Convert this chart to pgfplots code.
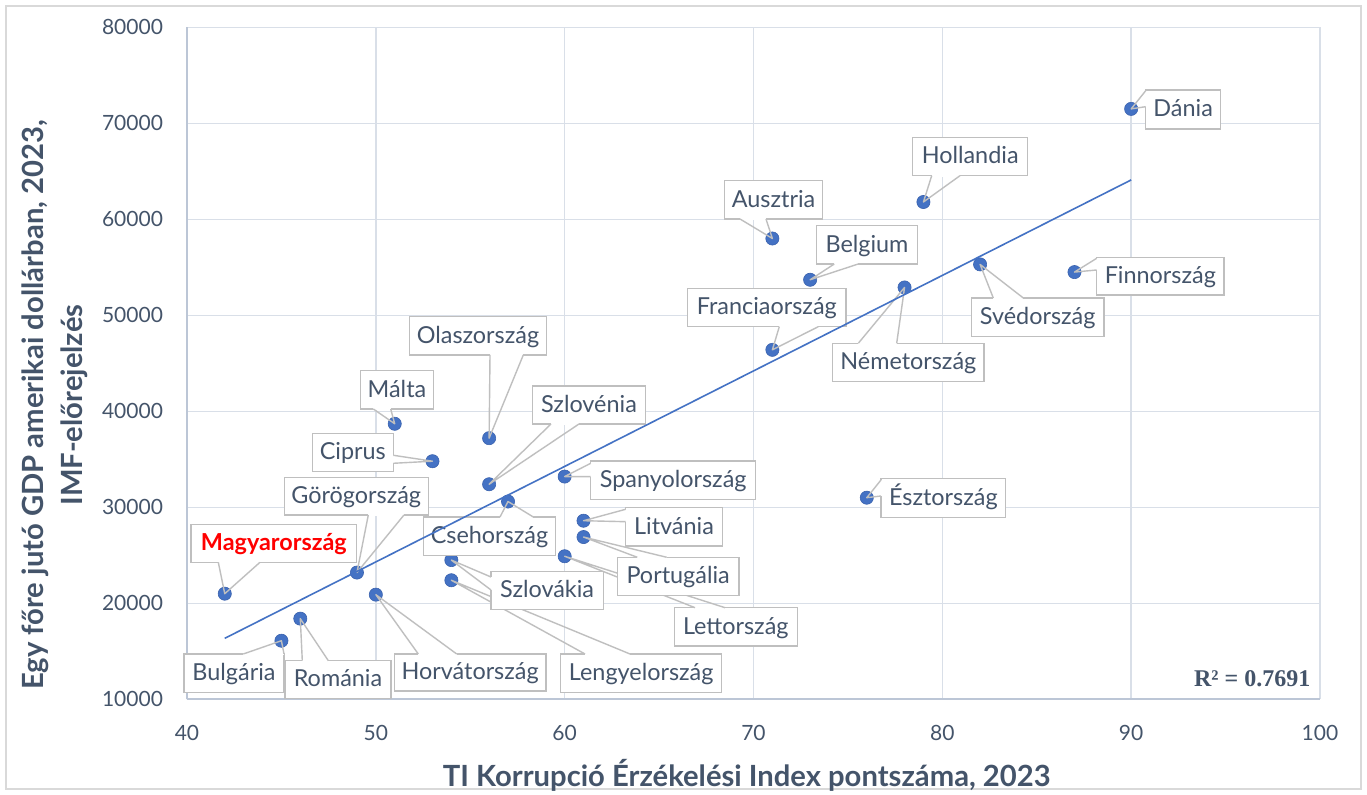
\documentclass[border=0pt]{standalone}
\usepackage{pgfplots}
\pgfplotsset{compat=1.18}
\usetikzlibrary{calc}
\usepackage{fontspec}
\setmainfont{Lato}
\newfontfamily\serifR{Liberation Serif}
\definecolor{txt}{HTML}{44546A}
\definecolor{gridc}{HTML}{D9DFE8}
\definecolor{axc}{HTML}{BCC6D6}
\definecolor{ptc}{HTML}{4472C4}
\definecolor{ptd}{HTML}{3A62AE}
\definecolor{boxc}{HTML}{BFBFBF}
\definecolor{framec}{HTML}{D9D9D9}
\newcommand\lbl{\fontsize{11.7}{13}\selectfont}
\newcommand\tck{\fontsize{10.5}{12}\selectfont}
% #1 corner1, #2 corner2, #3 text, #4 base1, #5 base2, #6 tip, #7 extra style
\newcommand{\callout}[7]{%
  \draw[boxc, line width=0.7pt, fill=white] #1 rectangle #2;
  \draw[white, line width=1.3pt] #4 -- #5;
  \draw[boxc, line width=0.7pt, line join=round] #4 -- (#6) -- #5;
  \node[text=txt, font=\lbl, text height=0.72em, text depth=0pt, inner sep=0pt, #7] at ($#1!0.5!#2$) {#3};
}
\begin{document}
\begin{tikzpicture}
\begin{scope}[x=0.5pt, y=-0.5pt, shift={(-93.5pt,349.65pt)}]
  \fill[white] (0,0) rectangle (1367,795);
  \draw[framec, line width=0.75pt] (6,6) rectangle (1361,789);
\end{scope}
\begin{axis}[
  at={(0,0)}, anchor=south west, scale only axis,
  width=566.5pt, height=336pt,
  xmin=40, xmax=100, ymin=10000, ymax=80000,
  xtick={40,50,...,100}, ytick={10000,20000,...,80000},
  grid=major, major grid style={gridc, line width=0.7pt},
  axis x line*=bottom, axis y line*=left,
  axis line style={axc, line width=0.9pt, -},
  major tick length=0pt,
  scaled y ticks=false, scaled x ticks=false,
  tick label style={font=\tck, text=txt},
  /pgf/number format/assume math mode=true,
  /pgf/number format/fixed,
  /pgf/number format/set thousands separator={},
  xticklabel style={yshift=-9.5pt},
  yticklabel style={xshift=-8.5pt},
  xlabel={TI Korrupció Érzékelési Index pontszáma, 2023},
  ylabel={Egy főre jutó GDP amerikai dollárban, 2023,\\IMF-előrejelzés},
  x label style={at={(axis description cs:0.494,-0.1127)}, anchor=center, font=\bfseries\fontsize{14.6}{16}\selectfont, text=txt},
  y label style={at={(axis description cs:-0.117,0.438)}, anchor=center, align=center, font=\bfseries\fontsize{14.6}{19.5}\selectfont, text=txt},
  clip=false,
]
\addplot[only marks, mark=*, mark size=3.3pt, mark options={fill=ptc, draw=ptd, line width=0.3pt}] coordinates {
  (42,21000) (45,16100) (46,18400) (49,23200) (50,20900) (51,38700) (53,34800)
  (56,37200) (56,32400) (57,30600) (54,24500) (54,22400) (60,33200) (60,24900)
  (61,28600) (61,26900) (71,58000) (71,46400) (73,53700) (78,52900) (79,61800)
  (82,55300) (87,54500) (90,71500) (76,31000)
};
\coordinate (hu) at (axis cs:42,21000);
\coordinate (bg) at (axis cs:45,16100);
\coordinate (ro) at (axis cs:46,18400);
\coordinate (gr) at (axis cs:49,23200);
\coordinate (hr) at (axis cs:50,20900);
\coordinate (mt) at (axis cs:51,38700);
\coordinate (cy) at (axis cs:53,34800);
\coordinate (it) at (axis cs:56,37200);
\coordinate (si) at (axis cs:56,32400);
\coordinate (cz) at (axis cs:57,30600);
\coordinate (sk) at (axis cs:54,24500);
\coordinate (pl) at (axis cs:54,22400);
\coordinate (es) at (axis cs:60,33200);
\coordinate (lv) at (axis cs:60,24900);
\coordinate (lt) at (axis cs:61,28600);
\coordinate (pt) at (axis cs:61,26900);
\coordinate (at) at (axis cs:71,58000);
\coordinate (fr) at (axis cs:71,46400);
\coordinate (be) at (axis cs:73,53700);
\coordinate (de) at (axis cs:78,52900);
\coordinate (nl) at (axis cs:79,61800);
\coordinate (se) at (axis cs:82,55300);
\coordinate (fi) at (axis cs:87,54500);
\coordinate (dk) at (axis cs:90,71500);
\coordinate (ee) at (axis cs:76,31000);
\end{axis}
\begin{scope}[x=0.5pt, y=-0.5pt, shift={(-93.5pt,349.65pt)}]
  \callout{(191,524.3)}{(356.7,562.3)}{Magyarország}{(218.3,562.3)}{(260,562.3)}{hu}{font=\lbl\bfseries, text=red}
  \callout{(184,654)}{(284,692.3)}{Bulgária}{(243.3,654)}{(284,654)}{bg}{}
  \callout{(285,660.7)}{(391,698.3)}{Románia}{(302.3,660.7)}{(328.3,660.7)}{ro}{}
  \callout{(284.3,477.3)}{(428.3,515)}{Görögország}{(368.3,515)}{(404,515)}{gr}{}
  \callout{(394.3,654)}{(546,691)}{Horvátország}{(418.3,654)}{(456.7,654)}{hr}{}
  \callout{(360.7,370.7)}{(433.3,409)}{Málta}{(373.3,409)}{(390.7,409)}{mt}{}
  \callout{(312.3,433.3)}{(393.3,471.7)}{Ciprus}{(393.3,455.3)}{(393.3,463.3)}{cy}{}
  \callout{(409.3,316.7)}{(546.7,355)}{Olaszország}{(490,355)}{(523.3,355)}{it}{}
  \callout{(532.3,386)}{(645.7,424)}{Szlovénia}{(551,424)}{(579,424)}{si}{}
  \callout{(423.5,517)}{(555.5,555.5)}{Csehország}{(500,517)}{(533.3,517)}{cz}{}
  \callout{(560.7,654)}{(721.7,692.3)}{Lengyelország}{(585,654)}{(630,654)}{pl}{}
  \callout{(491,571.7)}{(603.3,609.3)}{Szlovákia}{(491,577)}{(491,590)}{sk}{}
  \callout{(590.7,461)}{(755.7,499.3)}{Spanyolország}{(590.7,463.3)}{(590.7,476.7)}{es}{}
  \callout{(625.7,507.7)}{(722.3,546)}{Litvánia}{(625.7,509.3)}{(625.7,521.7)}{lt}{}
  \callout{(674.3,607.7)}{(797.3,646)}{Lettország}{(695,607.7)}{(725,607.7)}{lv}{}
  \callout{(617.3,557.3)}{(739,595.7)}{Portugália}{(637.3,557.3)}{(666.7,557.3)}{pt}{}
  \callout{(724.3,180.7)}{(822.7,219)}{Ausztria}{(740,219)}{(766,219)}{at}{}
  \callout{(912.7,137.3)}{(1027.7,175.7)}{Hollandia}{(931.7,175.7)}{(960,175.7)}{nl}{}
  \callout{(816.7,225.7)}{(917.3,264)}{Belgium}{(834.3,264)}{(858.3,264)}{be}{}
  \callout{(687.7,288.3)}{(846,326.7)}{Franciaország}{(779.3,326.7)}{(818.3,326.7)}{fr}{}
  \callout{(832.7,343.3)}{(984,381.7)}{Németország}{(858.3,343.3)}{(896.7,343.3)}{de}{}
  \callout{(971.5,298)}{(1104,336.3)}{Svédország}{(993.3,298)}{(1023.3,298)}{se}{}
  \callout{(1096.7,257.3)}{(1224,295)}{Finnország}{(1096.7,258.3)}{(1096.7,270)}{fi}{}
  \callout{(1145.7,90)}{(1220.7,129)}{Dánia}{(1145.7,90.7)}{(1145.7,106.7)}{dk}{}
  \callout{(881,478.7)}{(1005.7,517.7)}{Észtország}{(881,480)}{(881,496)}{ee}{}
  \node[anchor=east, inner sep=0pt, text=txt, font=\serifR\bfseries\fontsize{12}{14}\selectfont] at (1310.7,678.3) {R² = 0.7691};
\end{scope}
\begin{axis}[
  at={(0,0)}, anchor=south west, scale only axis,
  width=566.5pt, height=336pt,
  xmin=40, xmax=100, ymin=10000, ymax=80000,
  hide axis,
]
\addplot[ptc, line width=0.8pt] coordinates {(42,16350) (90,64100)};
\end{axis}
\begin{scope}[x=0.5pt, y=-0.5pt, shift={(-93.5pt,349.65pt)}]
  \pgfresetboundingbox
  \path (0,0) rectangle (1367,795);
\end{scope}
\end{tikzpicture}
\end{document}
